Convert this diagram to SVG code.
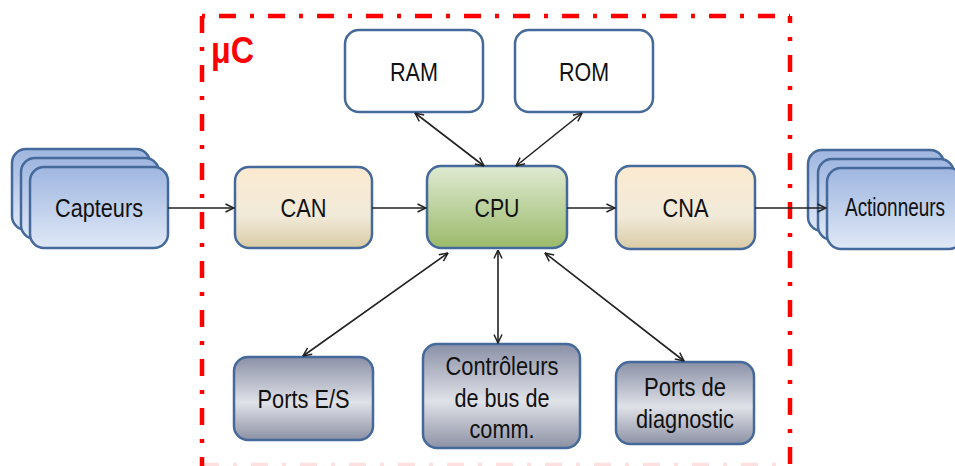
<svg xmlns="http://www.w3.org/2000/svg" width="955" height="466" viewBox="0 0 955 466">
  <style>
    .box { stroke: #44699a; stroke-width: 2.5; }
    .lbl { font-family: "Liberation Sans", Arial, sans-serif; font-size: 25px; fill: #111; text-anchor: middle; }
    .frame { stroke: #ff0000; stroke-width: 4.5; fill: none; stroke-dasharray: 17 14 4 14; }
    .link { stroke: #222; stroke-width: 1.6; fill: none; }
    .one { marker-end: url(#head); }
    .two { marker-start: url(#head); marker-end: url(#head); }
  </style>
  <defs>
    <linearGradient id="gBlue" x1="0" y1="0" x2="0" y2="1">
      <stop offset="0" stop-color="#9fb6e0"/>
      <stop offset="1" stop-color="#dfe8f6"/>
    </linearGradient>
    <linearGradient id="gTan" x1="0" y1="0" x2="0" y2="1">
      <stop offset="0" stop-color="#fcead0"/>
      <stop offset="0.6" stop-color="#f1ead9"/>
      <stop offset="1" stop-color="#d9cba5"/>
    </linearGradient>
    <linearGradient id="gGreen" x1="0" y1="0" x2="0" y2="1">
      <stop offset="0" stop-color="#dfead2"/>
      <stop offset="1" stop-color="#9bba6a"/>
    </linearGradient>
    <linearGradient id="gMetal" x1="0" y1="0" x2="0" y2="1">
      <stop offset="0" stop-color="#8a90a6"/>
      <stop offset="0.55" stop-color="#e0e2e8"/>
      <stop offset="1" stop-color="#8c91a4"/>
    </linearGradient>
    <marker id="head" viewBox="0 0 10 10" refX="9.5" refY="5" markerWidth="10" markerHeight="10" markerUnits="userSpaceOnUse" orient="auto-start-reverse">
      <path d="M1,1 L9.5,5 L1,9" fill="none" stroke="#222" stroke-width="1.5"/>
    </marker>
  </defs>

  <!-- microcontroller boundary -->
  <g id="uc-frame">
    <line class="frame" x1="202" y1="16" x2="790" y2="16" stroke-dashoffset="32"/>
    <line class="frame" x1="202" y1="16" x2="202" y2="468"/>
    <line class="frame" x1="790" y1="16" x2="790" y2="468" stroke-dashoffset="10"/>
    <line class="frame" x1="202" y1="465" x2="790" y2="465" stroke-opacity="0.12"/>
    <text x="211" y="63" font-family="'Liberation Sans', Arial, sans-serif" font-weight="bold" font-size="36" fill="#ff0000" textLength="43" lengthAdjust="spacingAndGlyphs">μC</text>
  </g>

  <g id="capteurs">
    <rect class="box" x="12" y="149" width="138" height="81" rx="14" fill="url(#gBlue)"/>
    <rect class="box" x="21" y="158" width="138" height="81" rx="14" fill="url(#gBlue)"/>
    <rect class="box" x="30" y="167" width="138" height="81" rx="14" fill="url(#gBlue)"/>
    <text class="lbl" x="99" y="217" textLength="88" lengthAdjust="spacingAndGlyphs">Capteurs</text>
  </g>

  <g id="can">
    <rect class="box" x="235" y="167" width="137" height="81" rx="14" fill="url(#gTan)"/>
    <text class="lbl" x="303.5" y="217" textLength="46" lengthAdjust="spacingAndGlyphs">CAN</text>
  </g>

  <g id="cpu">
    <rect class="box" x="427" y="166" width="140" height="82" rx="14" fill="url(#gGreen)"/>
    <text class="lbl" x="497" y="217" textLength="45" lengthAdjust="spacingAndGlyphs">CPU</text>
  </g>

  <g id="cna">
    <rect class="box" x="616" y="166" width="139" height="83" rx="14" fill="url(#gTan)"/>
    <text class="lbl" x="685.5" y="217" textLength="46" lengthAdjust="spacingAndGlyphs">CNA</text>
  </g>

  <g id="actionneurs">
    <rect class="box" x="808" y="150" width="136" height="81" rx="14" fill="url(#gBlue)"/>
    <rect class="box" x="818" y="159" width="136" height="81" rx="14" fill="url(#gBlue)"/>
    <rect class="box" x="827" y="168" width="136" height="81" rx="14" fill="url(#gBlue)"/>
    <text class="lbl" x="895" y="216" font-size="22" textLength="100" lengthAdjust="spacingAndGlyphs">Actionneurs</text>
  </g>

  <g id="ram">
    <rect class="box" x="345" y="30" width="138" height="82" rx="14" fill="#ffffff"/>
    <text class="lbl" x="414" y="81" textLength="48" lengthAdjust="spacingAndGlyphs">RAM</text>
  </g>

  <g id="rom">
    <rect class="box" x="515" y="30" width="138" height="82" rx="14" fill="#ffffff"/>
    <text class="lbl" x="584" y="81" textLength="50" lengthAdjust="spacingAndGlyphs">ROM</text>
  </g>

  <g id="ports-es">
    <rect class="box" x="234" y="357" width="139" height="83" rx="14" fill="url(#gMetal)"/>
    <text class="lbl" x="303.5" y="408" textLength="92" lengthAdjust="spacingAndGlyphs">Ports E/S</text>
  </g>

  <g id="controleurs-bus">
    <rect class="box" x="423" y="344" width="157" height="104" rx="14" fill="url(#gMetal)"/>
    <text class="lbl" x="502" y="375" textLength="113" lengthAdjust="spacingAndGlyphs">Contrôleurs</text>
    <text class="lbl" x="502" y="407" textLength="95" lengthAdjust="spacingAndGlyphs">de bus de</text>
    <text class="lbl" x="502" y="438" textLength="65" lengthAdjust="spacingAndGlyphs">comm.</text>
  </g>

  <g id="ports-diagnostic">
    <rect class="box" x="616" y="362" width="138" height="82" rx="14" fill="url(#gMetal)"/>
    <text class="lbl" x="685" y="396" textLength="82" lengthAdjust="spacingAndGlyphs">Ports de</text>
    <text class="lbl" x="685" y="428" textLength="98" lengthAdjust="spacingAndGlyphs">diagnostic</text>
  </g>

  <g id="connectors">
    <path class="link one" d="M168,208 L234,208"/>
    <path class="link one" d="M372,208 L426,208"/>
    <path class="link one" d="M567,208 L615,208"/>
    <path class="link one" d="M755,208 L826,208"/>
    <path class="link two" d="M415,113 L484,166"/>
    <path class="link two" d="M582,113 L516,166"/>
    <path class="link two" d="M448,253 L303,356"/>
    <path class="link two" d="M498,250 L498,343"/>
    <path class="link two" d="M545,253 L684,361"/>
  </g>
</svg>
